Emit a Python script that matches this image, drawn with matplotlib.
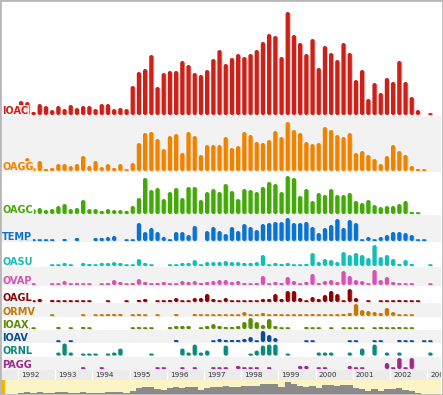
import numpy as np
import matplotlib.pyplot as plt
from matplotlib.patches import FancyBboxPatch, Rectangle
from matplotlib.colors import to_rgb

# bimonthly counts, Jan/Feb 1992 .. Jan/Feb 2003 (6 per year)
years = list(range(1992, 2004))

ioac = [14, 13, 3, 11, 9, 5,   9, 6, 10, 7, 9, 9,   6, 11, 11, 6, 7, 6,
        29, 43, 46, 60, 28, 42,   44, 44, 54, 50, 42, 40,   45, 56, 65, 51, 57, 61,
        58, 61, 65, 73, 81, 79,   58, 103, 80, 72, 61, 76,   47, 69, 62, 55, 72, 62,
        35, 45, 16, 32, 22, 37,   33, 54, 33, 18, 5, 0,   1]
oagg = [3, 13, 3, 10, 2, 3,   7, 7, 5, 7, 15, 5,   10, 4, 7, 3, 7, 1,
        8, 28, 38, 39, 32, 22,   35, 37, 18, 39, 35, 16,   26, 26, 26, 34, 23, 25,
        39, 36, 29, 28, 31, 40,   34, 49, 41, 38, 29, 27,   28, 44, 41, 36, 34, 38,
        18, 20, 16, 12, 7, 15,   26, 20, 16, 5, 2, 1,   0]
oagc = [2, 4, 5, 6, 4, 5,   8, 10, 5, 6, 14, 5,   5, 3, 5, 4, 4, 3,
        8, 16, 36, 24, 26, 15,   22, 26, 16, 27, 27, 14,   22, 25, 22, 30, 23, 15,
        25, 24, 22, 27, 32, 30,   22, 38, 36, 18, 25, 13,   21, 19, 25, 19, 19, 21,
        13, 11, 14, 9, 7, 8,   8, 10, 13, 2, 1, 0,   0]
temp = [1, 1, 1, 1, 1, 1,   0, 2, 0, 3, 0, 0,   3, 3, 4, 5, 0, 1,
        1, 18, 9, 13, 9, 4,   1, 9, 9, 6, 15, 0,   10, 14, 10, 7, 14, 10,
        17, 14, 11, 17, 18, 19,   19, 23, 18, 18, 19, 14,   8, 13, 16, 22, 13, 21,
        18, 1, 4, 1, 4, 6,   9, 9, 8, 6, 1, 1,   0]
oasu = [0, 0, 0, 0, 0, 1,   1, 3, 1, 0, 3, 2,   1, 3, 3, 4, 3, 1,
        1, 7, 3, 1, 0, 0,   1, 1, 3, 3, 6, 1,   4, 4, 4, 5, 4, 4,
        3, 3, 4, 11, 1, 3,   2, 3, 1, 1, 2, 13,   4, 7, 6, 4, 14, 11,
        13, 11, 8, 21, 9, 11,   7, 2, 6, 2, 0, 0,   1]
ovap = [0, 1, 1, 0, 0, 1,   1, 4, 1, 2, 1, 1,   0, 1, 2, 5, 3, 1,
        2, 6, 3, 1, 2, 3,   1, 1, 4, 3, 4, 2,   3, 4, 5, 5, 3, 4,
        2, 1, 2, 9, 1, 3,   2, 8, 4, 1, 3, 11,   2, 4, 5, 3, 14, 9,
        5, 4, 1, 15, 5, 8,   3, 2, 1, 2, 0, 0,   1]
oagl = [0, 1, 1, 3, 0, 2,   1, 1, 1, 1, 1, 1,   0, 0, 1, 0, 0, 1,
        0, 2, 3, 0, 1, 1,   2, 4, 1, 1, 4, 4,   8, 3, 1, 4, 1, 1,
        1, 1, 1, 3, 3, 8,   3, 11, 11, 4, 1, 5,   3, 7, 11, 8, 1, 13,
        4, 0, 1, 0, 1, 1,   1, 2, 1, 1, 1, 0,   0]
ormv = [0, 0, 0, 0, 0, 1,   0, 0, 0, 0, 1, 0,   1, 1, 2, 2, 2, 0,
        1, 2, 1, 0, 1, 0,   0, 2, 0, 0, 2, 1,   1, 1, 1, 1, 1, 1,
        4, 1, 1, 3, 1, 2,   1, 1, 1, 1, 1, 2,   1, 1, 1, 1, 2, 3,
        12, 6, 5, 4, 3, 8,   4, 1, 1, 1, 0, 0,   0]
ioax = [1, 1, 1, 0, 0, 0,   2, 0, 1, 0, 2, 1,   0, 0, 0, 0, 0, 0,
        1, 2, 1, 1, 0, 0,   2, 3, 3, 3, 0, 1,   3, 5, 3, 2, 2, 3,
        7, 11, 7, 4, 10, 3,   1, 1, 0, 0, 2, 1,   1, 0, 1, 0, 1, 1,
        1, 1, 0, 1, 2, 1,   1, 2, 1, 1, 0, 0,   0]
ioav = [0, 0, 0, 0, 0, 0,   1, 0, 1, 0, 0, 0,   0, 0, 0, 0, 0, 0,
        0, 0, 0, 0, 0, 0,   0, 2, 0, 0, 0, 0,   0, 1, 3, 2, 2, 2,
        3, 5, 1, 11, 7, 4,   0, 0, 0, 0, 1, 1,   0, 0, 0, 0, 0, 1,
        1, 0, 0, 1, 1, 0,   0, 2, 1, 1, 0, 1,   1]
ornl = [0, 0, 0, 0, 0, 0,   3, 12, 3, 0, 2, 2,   2, 0, 2, 3, 7, 0,
        0, 0, 0, 2, 0, 0,   0, 0, 7, 3, 11, 3,   5, 0, 0, 10, 0, 0,
        0, 2, 5, 10, 11, 11,   0, 2, 0, 0, 0, 0,   3, 3, 3, 0, 0, 3,
        0, 7, 0, 11, 0, 3,   0, 3, 0, 0, 0, 0,   3]
pagg = [0, 0, 0, 0, 0, 0,   0, 0, 0, 0, 1, 0,   0, 1, 0, 0, 0, 0,
        0, 0, 0, 0, 1, 1,   0, 0, 1, 0, 1, 0,   0, 1, 1, 1, 0, 3,
        1, 1, 1, 0, 1, 0,   0, 0, 0, 3, 3, 0,   1, 1, 0, 0, 0, 3,
        1, 1, 0, 0, 0, 6,   1, 11, 1, 11, 0, 0,   0]

names = ['IOAC', 'OAGG', 'OAGC', 'TEMP', 'OASU', 'OVAP',
         'OAGL', 'ORMV', 'IOAX', 'IOAV', 'ORNL', 'PAGG']
series = [ioac, oagg, oagc, temp, oasu, ovap, oagl, ormv, ioax, ioav, ornl, pagg]
colors = ['#cc2119', '#ef8300', '#45a80a', '#0a72cf', '#14bdb6', '#d752b4',
          '#8c0505', '#c07a06', '#5a8b05', '#0a4d96', '#0a8a7c', '#9c2a88']

# layout in pixels
W, H = 443, 395
YEAR_PX = 37.2
X1992 = 18.0
BAR_PX = 4.2
MIN_H = 1.8
band_bottoms = [116, 172, 215, 242, 267, 286, 303, 317, 330, 343, 356.5, 370]
band_tops = [2] + band_bottoms[:-1]

t0 = 1992 - (X1992 - 1) / YEAR_PX
t1 = 1992 + (441 - X1992) / YEAR_PX

fig = plt.figure(figsize=(W / 100, H / 100), dpi=100)
fig.patch.set_facecolor('white')


def px_axes(top, bottom):
    ax = fig.add_axes([1 / W, 1 - bottom / H, 440 / W, (bottom - top) / H])
    ax.set_xlim(t0, t1)
    ax.set_xticks([])
    ax.set_yticks([])
    for s in ax.spines.values():
        s.set_visible(False)
    return ax


def lighter(c, f):
    r, g, b = to_rgb(c)
    return (r + (1 - r) * f, g + (1 - g) * f, b + (1 - b) * f)


bar_w = BAR_PX / YEAR_PX
x = 1992 + (np.arange(len(ioac)) + 0.5) / 6

for k, (name, vals, col) in enumerate(zip(names, series, colors)):
    top, bot = band_tops[k], band_bottoms[k]
    ax = px_axes(top, bot)
    ax.set_ylim(-1, bot - top - 1)
    bg = 'white' if k % 2 == 0 else '#f2f2f2'
    ax.set_facecolor(bg)
    shade = lighter(col, 0.65)
    for xi, v in zip(x, vals):
        if v <= 0:
            continue
        h = max(v, MIN_H)
        r = min(bar_w / 2, h / YEAR_PX / 2)
        for dx, dy, fc, z in [(0.9 / YEAR_PX, -0.6, shade, 1), (0, 0, col, 2)]:
            p = FancyBboxPatch((xi - bar_w / 2 + dx, dy), bar_w, h,
                               boxstyle=f"round,pad=0,rounding_size={r}",
                               mutation_aspect=YEAR_PX, fc=fc, ec='none',
                               zorder=z)
            ax.add_patch(p)
    ax.text(t0 + 1 / YEAR_PX, 1, name, fontsize=7, fontweight='bold',
            color=col, ha='left', va='baseline', zorder=5,
            bbox=dict(boxstyle='square,pad=0.1', fc=bg, ec='none', alpha=0.85))

# time axis strip
ax = px_axes(370, 380)
ax.set_ylim(0, 1)
ax.set_facecolor('#ebebeb')
for y in years:
    ax.axvline(y, color='white', lw=1)
    ax.text(y + 3 / YEAR_PX, 0.5, str(y), fontsize=5.2, color='#333333',
            ha='left', va='center', clip_on=True)

# overview strip
totals = np.sum(np.array(series), axis=0)
edges = 1992 + np.arange(len(totals) + 1) / 6
ax = px_axes(380, 394)
ax.set_facecolor('#fdf4c6')
ax.set_ylim(0, totals.max() * 1.15)
ax.stairs(totals, edges, fill=True, color='#8a8a8a')
ax.axvspan(t0, t0 + 3 / YEAR_PX, color='#f6b300')

fig.patches.append(Rectangle((0, 0), 1, 1, transform=fig.transFigure,
                             fill=False, ec='#b8b8b8', lw=2))

fig.savefig('out.png', dpi=100)
